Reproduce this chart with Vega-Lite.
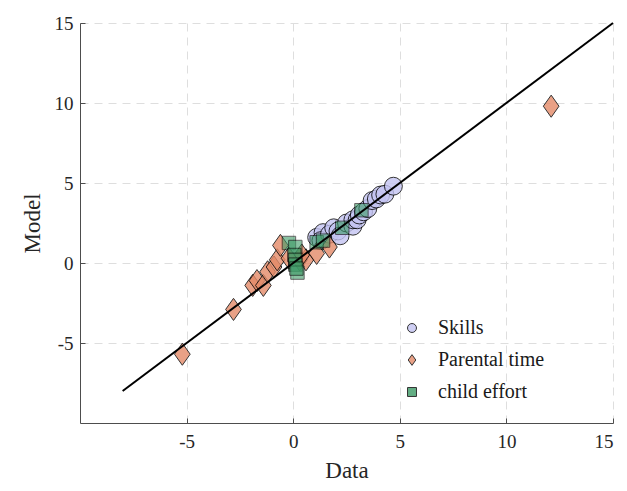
{
  "$schema": "https://vega.github.io/schema/vega-lite/v6.json",
  "width": 533,
  "height": 400,
  "autosize": {"type": "none"},
  "padding": {"left": 80, "top": 23, "right": 14, "bottom": 68},
  "background": "white",
  "config": {
    "font": "Liberation Serif",
    "view": {"stroke": null},
    "axis": {
      "labelFont": "Liberation Serif",
      "titleFont": "Liberation Serif",
      "labelFontSize": 19,
      "titleFontSize": 23,
      "titleFontWeight": "normal",
      "labelColor": "#262626",
      "titleColor": "#262626",
      "domainColor": "#4d4d4d",
      "domainWidth": 1,
      "tickColor": "#4d4d4d",
      "tickSize": -5,
      "gridColor": "#dedede",
      "gridDash": [8, 6],
      "gridWidth": 1
    },
    "legend": {
      "labelFont": "Liberation Serif",
      "labelFontSize": 20,
      "labelColor": "#1a1a1a"
    }
  },
  "datasets": {
    "pts": [
      {"Data": 1.1, "Model": 1.6, "series": "Skills"},
      {"Data": 1.4, "Model": 1.9, "series": "Skills"},
      {"Data": 1.3, "Model": 1.4, "series": "Skills"},
      {"Data": 1.7, "Model": 1.8, "series": "Skills"},
      {"Data": 1.9, "Model": 2.2, "series": "Skills"},
      {"Data": 2.1, "Model": 2.0, "series": "Skills"},
      {"Data": 2.2, "Model": 1.7, "series": "Skills"},
      {"Data": 2.5, "Model": 2.5, "series": "Skills"},
      {"Data": 2.8, "Model": 2.3, "series": "Skills"},
      {"Data": 2.8, "Model": 2.7, "series": "Skills"},
      {"Data": 3.0, "Model": 2.7, "series": "Skills"},
      {"Data": 3.1, "Model": 3.0, "series": "Skills"},
      {"Data": 3.3, "Model": 3.2, "series": "Skills"},
      {"Data": 3.5, "Model": 3.4, "series": "Skills"},
      {"Data": 3.7, "Model": 3.9, "series": "Skills"},
      {"Data": 3.9, "Model": 4.0, "series": "Skills"},
      {"Data": 4.1, "Model": 4.25, "series": "Skills"},
      {"Data": 4.3, "Model": 4.3, "series": "Skills"},
      {"Data": 4.7, "Model": 4.8, "series": "Skills"},
      {"Data": -5.2, "Model": -5.7, "series": "Parental time"},
      {"Data": -2.8, "Model": -2.9, "series": "Parental time"},
      {"Data": 12.1, "Model": 9.8, "series": "Parental time"},
      {"Data": -1.9, "Model": -1.4, "series": "Parental time"},
      {"Data": -1.7, "Model": -1.1, "series": "Parental time"},
      {"Data": -1.4, "Model": -1.4, "series": "Parental time"},
      {"Data": -1.2, "Model": -0.55, "series": "Parental time"},
      {"Data": -0.9, "Model": -0.25, "series": "Parental time"},
      {"Data": -0.75, "Model": 0.2, "series": "Parental time"},
      {"Data": -0.6, "Model": 1.1, "series": "Parental time"},
      {"Data": 0.3, "Model": 0.2, "series": "Parental time"},
      {"Data": 0.6, "Model": 0.2, "series": "Parental time"},
      {"Data": 0.4, "Model": 0.5, "series": "Parental time"},
      {"Data": 1.1, "Model": 0.6, "series": "Parental time"},
      {"Data": 1.7, "Model": 1.0, "series": "Parental time"},
      {"Data": -0.2, "Model": 0.3, "series": "Parental time"},
      {"Data": -0.2, "Model": 1.25, "series": "child effort"},
      {"Data": 0.1, "Model": 1.0, "series": "child effort"},
      {"Data": 0.05, "Model": 0.5, "series": "child effort"},
      {"Data": 0.1, "Model": 0.2, "series": "child effort"},
      {"Data": 0.1, "Model": -0.1, "series": "child effort"},
      {"Data": 0.2, "Model": -0.6, "series": "child effort"},
      {"Data": 0.15, "Model": -0.35, "series": "child effort"},
      {"Data": 1.1, "Model": 1.3, "series": "child effort"},
      {"Data": 1.4, "Model": 1.4, "series": "child effort"},
      {"Data": 2.3, "Model": 2.2, "series": "child effort"},
      {"Data": 3.2, "Model": 3.3, "series": "child effort"}
    ],
    "fit": [
      {"Data": -8, "Model": -8},
      {"Data": 15, "Model": 15}
    ]
  },
  "encoding": {
    "x": {
      "field": "Data", "type": "quantitative",
      "scale": {"domain": [-10, 15], "nice": false, "zero": false},
      "axis": {"values": [-5, 0, 5, 10, 15], "labelExpr": "'' + datum.value", "title": "Data", "titlePadding": 8, "labelPadding": 14}
    },
    "y": {
      "field": "Model", "type": "quantitative",
      "scale": {"domain": [-10, 15], "nice": false, "zero": false},
      "axis": {"values": [-5, 0, 5, 10, 15], "labelExpr": "'' + datum.value", "title": "Model", "titlePadding": 10, "labelPadding": 12}
    }
  },
  "layer": [
    {
      "data": {"name": "pts"},
      "transform": [{"filter": "datum.series === 'Skills'"}],
      "mark": {"type": "point", "filled": true, "stroke": "black", "strokeWidth": 1, "opacity": 0.8, "strokeOpacity": 1, "size": 320},
      "encoding": {
        "color": {
          "field": "series", "type": "nominal",
          "scale": {"domain": ["Skills", "Parental time", "child effort"], "range": ["#c4c4f2", "#e48a68", "#3d9a66"]},
          "legend": {
            "title": null, "orient": "none", "legendX": 322, "legendY": 295,
            "symbolSize": 80, "symbolStrokeColor": "black", "symbolStrokeWidth": 1, "symbolOpacity": 0.6,
            "rowPadding": 12, "labelOffset": 16
          }
        },
        "shape": {
          "field": "series", "type": "nominal",
          "scale": {"domain": ["Skills", "Parental time", "child effort"], "range": ["circle", "M0,-1.2L0.85,0L0,1.2L-0.85,0Z", "square"]}
        }
      }
    },
    {
      "data": {"name": "pts"},
      "transform": [{"filter": "datum.series === 'Parental time'"}],
      "mark": {"type": "point", "filled": true, "stroke": "black", "strokeWidth": 1, "opacity": 0.8, "strokeOpacity": 1, "size": 340},
      "encoding": {
        "color": {"field": "series", "type": "nominal"},
        "shape": {"field": "series", "type": "nominal"}
      }
    },
    {
      "data": {"name": "pts"},
      "transform": [{"filter": "datum.series === 'child effort'"}],
      "mark": {"type": "point", "filled": true, "stroke": "black", "strokeWidth": 1, "opacity": 0.6, "strokeOpacity": 1, "size": 180},
      "encoding": {
        "color": {"field": "series", "type": "nominal"},
        "shape": {"field": "series", "type": "nominal"}
      }
    },
    {
      "data": {"name": "fit"},
      "mark": {"type": "line", "color": "black", "strokeWidth": 2},
      "encoding": {}
    }
  ]
}
